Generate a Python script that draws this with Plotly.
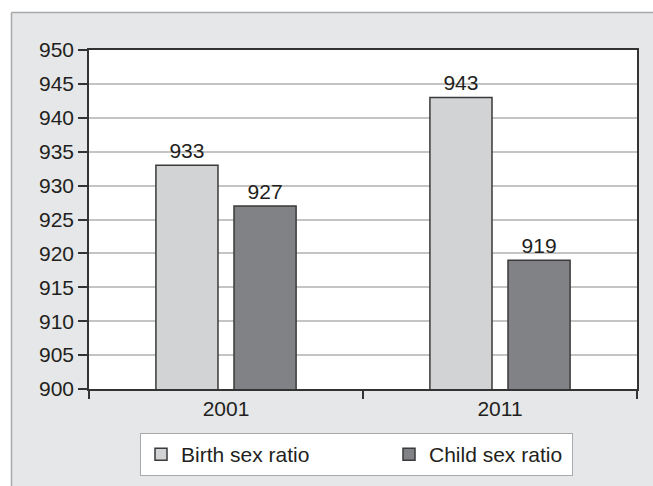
import plotly.graph_objects as go

years = ["2001", "2011"]
birth_sex_ratio = [933, 943]
child_sex_ratio = [927, 919]
y_ticks = [900, 905, 910, 915, 920, 925, 930, 935, 940, 945, 950]

W, H = 653, 486
L, R, T, B = 89, 637, 50, 389
pw, ph = R - L, B - T

def px(x):
    return (x - L) / pw

def py(y):
    return (B - y) / ph

font = "Liberation Sans, Arial, sans-serif"
txt = "#231f20"
FS = 21

fig = go.Figure()
fig.add_trace(go.Bar(
    x=years, y=birth_sex_ratio, name="Birth sex ratio",
    marker=dict(color="#d1d3d4", line=dict(color="#3a3a3a", width=1.5)),
    text=[str(v) for v in birth_sex_ratio], textposition="outside",
    textfont=dict(size=FS, color=txt, family=font), cliponaxis=False,
    legendwidth=203,
))
fig.add_trace(go.Bar(
    x=years, y=child_sex_ratio, name="Child sex ratio",
    marker=dict(color="#808285", line=dict(color="#3a3a3a", width=1.5)),
    text=[str(v) for v in child_sex_ratio], textposition="outside",
    textfont=dict(size=FS, color=txt, family=font), cliponaxis=False,
    legendwidth=138,
))

shapes = [
    dict(type="rect", xref="paper", yref="paper", x0=px(-20), x1=px(700), y0=py(12), y1=py(-20),
         fillcolor="white", line=dict(width=0), layer="above"),
    dict(type="rect", xref="paper", yref="paper", x0=px(-20), x1=px(11), y0=py(520), y1=py(-20),
         fillcolor="white", line=dict(width=0), layer="above"),
    dict(type="line", xref="paper", yref="paper", x0=px(11.5), x1=px(700), y0=py(12.5), y1=py(12.5),
         line=dict(color="#a7a9ac", width=1.5), layer="above"),
    dict(type="line", xref="paper", yref="paper", x0=px(11.5), x1=px(11.5), y0=py(12.5), y1=py(520),
         line=dict(color="#a7a9ac", width=1.5), layer="above"),
]

fig.update_layout(
    width=W, height=H,
    margin=dict(l=L, r=W - R, t=T, b=H - B, autoexpand=False),
    paper_bgcolor="#e6e7e8",
    plot_bgcolor="white",
    barmode="group",
    bargap=0.43,
    bargroupgap=0.205,
    font=dict(family=font, size=FS, color=txt),
    shapes=shapes,
    legend=dict(
        orientation="h", x=px(140), y=py(433), xanchor="left", yanchor="top",
        bgcolor="white", bordercolor="#a7a9ac", borderwidth=1,
        font=dict(size=FS, color=txt, family=font),
        itemwidth=30,
    ),
    xaxis=dict(
        showline=True, linecolor="#333", linewidth=1.5, mirror=True,
        ticks="outside", ticklen=8, tickcolor="#333", tickwidth=1.5,
        tickson="boundaries", showgrid=False,
        tickfont=dict(size=FS, color=txt, family=font),
    ),
    yaxis=dict(
        range=[900, 950], tickvals=y_ticks, ticktext=[str(v) for v in y_ticks],
        showline=True, linecolor="#333", linewidth=1.5, mirror=True,
        ticks="outside", ticklen=9, tickcolor="#333", tickwidth=1.5,
        showgrid=True, gridcolor="#c4c4c4", gridwidth=1.5, zeroline=False,
        tickfont=dict(size=FS, color=txt, family=font),
    ),
)

fig.write_html("out.html")
